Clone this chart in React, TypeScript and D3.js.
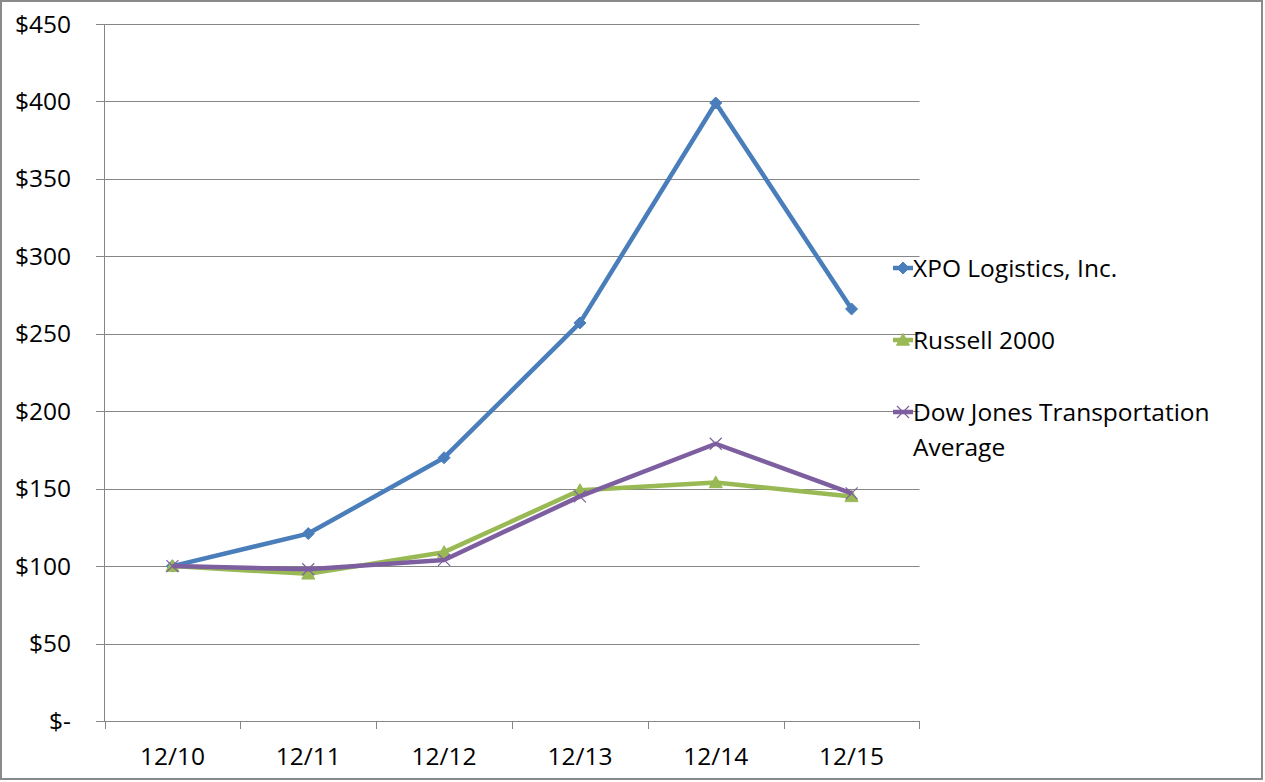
import React from "react";
import * as d3 from "d3";

const categories = ["12/10", "12/11", "12/12", "12/13", "12/14", "12/15"];
const xpoValues = [100, 121, 170, 257, 399, 266];
const russellValues = [100, 95, 109, 149, 154, 145];
const djtValues = [100, 98, 104, 145, 179, 147];
const yTicks = [0, 50, 100, 150, 200, 250, 300, 350, 400, 450];
const seriesNames = ["XPO Logistics, Inc.", "Russell 2000", "Dow Jones Transportation|Average"];

const W = 1265, H = 782;
const FONT = "'Open Sans', sans-serif";
const FS = 24.5;

export default function App() {
  const left = 104.5, right = 919.5, top = 24, bottom = 721;
  const x = d3.scaleBand().domain(categories).range([left, right]);
  const y = d3.scaleLinear().domain([0, 450]).range([bottom, top]);
  const cx = (c: string) => (x(c) as number) + x.bandwidth() / 2;

  const series = [
    { name: seriesNames[0], values: xpoValues, color: "#4A7EBB", marker: "diamond" },
    { name: seriesNames[1], values: russellValues, color: "#98B954", marker: "triangle" },
    { name: seriesNames[2], values: djtValues, color: "#7D5FA0", marker: "x" },
  ];
  const line = d3.line<number>().x((_, i) => cx(categories[i])).y((v) => y(v));

  const marker = (type: string, px: number, py: number, color: string, key: string) => {
    if (type === "diamond") {
      const s = 6;
      return <path key={key} d={`M${px},${py - s}L${px + s},${py}L${px},${py + s}L${px - s},${py}Z`} fill={color} stroke={color} strokeWidth={1} />;
    }
    if (type === "triangle") {
      const s = 6.5;
      return <path key={key} d={`M${px},${py - s}L${px + s},${py + s * 0.8}L${px - s},${py + s * 0.8}Z`} fill={color} stroke={color} strokeWidth={1} />;
    }
    const s = 6;
    return <path key={key} d={`M${px - s},${py - s}L${px + s},${py + s}M${px + s},${py - s}L${px - s},${py + s}`} stroke={color} strokeWidth={1.2} fill="none" />;
  };

  const legendY = [268, 340, 412];
  const legendX = 903;

  return (
    <div style={{ position: "fixed", left: 0, top: 0, width: W, height: H, background: "#fff" }}>
      <svg width={W} height={H} style={{ display: "block" }}>
        <rect x={1} y={1} width={1261} height={778} fill="#fff" stroke="#8a8a8a" strokeWidth={2} />
        {yTicks.map((t) => (
          <g key={t}>
            <line x1={96} x2={right} y1={Math.round(y(t)) + 0.5} y2={Math.round(y(t)) + 0.5} stroke="#868686" strokeWidth={1} />
            <text x={71} y={y(t) + 8.5} textAnchor="end" fontFamily={FONT} fontSize={FS} fill="#000">
              {t === 0 ? "$-" : `$${t}`}
            </text>
          </g>
        ))}
        <line x1={left} x2={left} y1={top} y2={bottom} stroke="#868686" strokeWidth={1} />
        {categories.map((c, i) => (
          <line key={"t" + i} x1={Math.round((x(c) as number)) + 0.5} x2={Math.round((x(c) as number)) + 0.5} y1={bottom} y2={bottom + 8} stroke="#868686" />
        ))}
        <line x1={right} x2={right} y1={bottom} y2={bottom + 8} stroke="#868686" />
        {categories.map((c) => (
          <text key={c} x={cx(c)} y={765} textAnchor="middle" fontFamily={FONT} fontSize={FS} fill="#000">{c}</text>
        ))}
        {series.map((s) => (
          <g key={s.name}>
            <path d={line(s.values) || ""} fill="none" stroke={s.color} strokeWidth={4.5} strokeLinejoin="round" />
            {s.values.map((v, i) => marker(s.marker, cx(categories[i]), y(v), s.color, s.name + i))}
          </g>
        ))}
        {series.map((s, i) => {
          const ly = legendY[i];
          const parts = s.name.split("|");
          return (
            <g key={"lg" + i}>
              <line x1={legendX - 10} x2={legendX + 10} y1={ly} y2={ly} stroke={s.color} strokeWidth={4.5} />
              {marker(s.marker, legendX, ly, s.color, "lm" + i)}
              {parts.map((p, j) => (
                <text key={j} x={913} y={ly + 8.5 + j * 35} fontFamily={FONT} fontSize={FS} fill="#000">{p}</text>
              ))}
            </g>
          );
        })}
      </svg>
    </div>
  );
}
